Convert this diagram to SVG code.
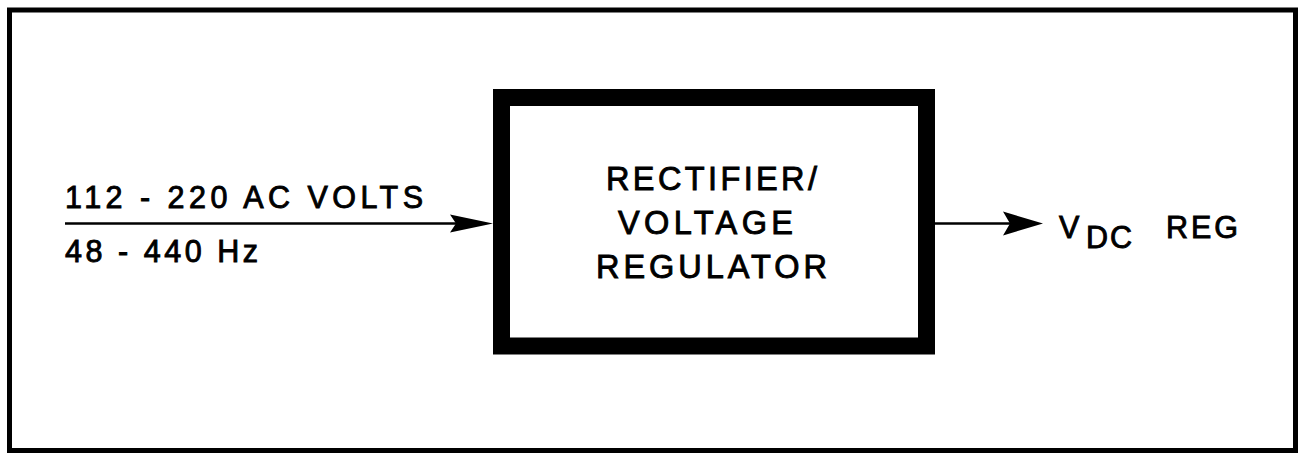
<svg xmlns="http://www.w3.org/2000/svg" width="1298" height="453" viewBox="0 0 1298 453">
<style>
.t{font-family:"Liberation Sans",Arial,sans-serif;font-size:30.5px;fill:#000;stroke:#000;stroke-width:0.9}
.b{font-family:"Liberation Sans",Arial,sans-serif;font-size:32.5px;fill:#000;stroke:#000;stroke-width:0.9}
.ln{stroke:#000;stroke-width:2.4;fill:none}
.ah{fill:#000;stroke:none}
</style>
<rect id="frame" x="9.5" y="10" width="1286" height="440.5" fill="#fff" stroke="#000" stroke-width="5"/>
<g id="input-label">
<text class="t" x="65" y="208" textLength="358" lengthAdjust="spacing">112 - 220 AC VOLTS</text>
<text class="t" x="65" y="262" textLength="193" lengthAdjust="spacing">48 - 440 Hz</text>
</g>
<g id="regulator">
<rect x="501.5" y="97.5" width="425" height="248.5" fill="#fff" stroke="#000" stroke-width="17"/>
<text class="b" x="606" y="190" textLength="211" lengthAdjust="spacing">RECTIFIER/</text>
<text class="b" x="618" y="234" textLength="175" lengthAdjust="spacing">VOLTAGE</text>
<text class="b" x="596" y="278" textLength="231" lengthAdjust="spacing">REGULATOR</text>
</g>
<g id="output-label">
<text class="t" x="1059" y="238">V</text>
<text class="t" x="1086" y="248" textLength="46" lengthAdjust="spacing">DC</text>
<text class="t" x="1166" y="238" textLength="72" lengthAdjust="spacing">REG</text>
</g>
<g id="connectors">
<line class="ln" x1="65" y1="223.5" x2="456" y2="223.5"/>
<polygon class="ah" points="450,214.5 493,223.5 450,232.5 456,223.5"/>
<line class="ln" x1="935" y1="223.5" x2="1010" y2="223.5"/>
<polygon class="ah" points="1003,211.5 1043,223.5 1003,235.5 1010,223.5"/>
</g>
</svg>
